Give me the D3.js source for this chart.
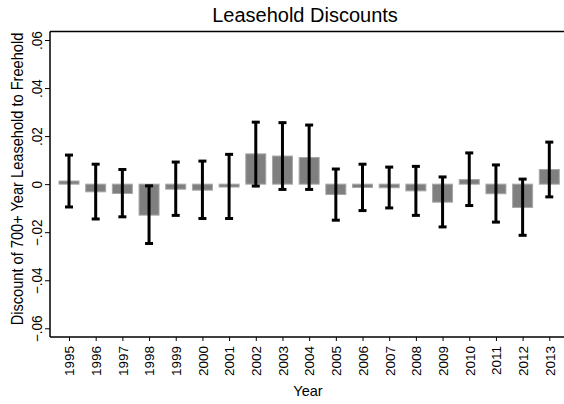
<!DOCTYPE html>
<html lang="en">
<head>
<meta charset="UTF-8">
<title>Leasehold Discounts</title>
<script src="https://d3js.org/d3.v7.min.js"></script>
<style>
  body { margin: 0; background: #fff; }
  svg { display: block; font-family: "Liberation Sans", Arial, Helvetica, sans-serif; }
  .bar { fill: #7f7f7f; stroke: #a8a8a8; stroke-width: 1; }
  .err { stroke: #000; stroke-width: 3; }
  .axis path, .axis line { stroke: #000; }
  .axis text { fill: #000; }
</style>
</head>
<body>
<svg width="564" height="404"></svg>
<script>
// estimates
const years = ["1995","1996","1997","1998","1999","2000","2001","2002","2003","2004",
               "2005","2006","2007","2008","2009","2010","2011","2012","2013"];
const discount = [0.0013, -0.0032, -0.0039, -0.0129, -0.0021, -0.0025, -0.0012, 0.0126, 0.0117, 0.0111,
                  -0.0043, -0.0014, -0.0015, -0.0028, -0.0075, 0.0019, -0.0040, -0.0097, 0.0061];
const upper = [0.0121, 0.0083, 0.0061, -0.0007, 0.0092, 0.0096, 0.0124, 0.0258, 0.0256, 0.0246,
               0.0063, 0.0083, 0.0071, 0.0074, 0.0030, 0.0130, 0.0080, 0.0021, 0.0175];
const lower = [-0.0095, -0.0145, -0.0136, -0.0247, -0.0130, -0.0143, -0.0143, -0.0008, -0.0022, -0.0022,
               -0.0150, -0.0110, -0.0099, -0.0130, -0.0178, -0.0089, -0.0158, -0.0213, -0.0053];
const yTicks = [-0.06, -0.04, -0.02, 0, 0.02, 0.04, 0.06];

const plot = {left: 50, right: 564, top: 31.5, bottom: 337};

const svg = d3.select("svg");

const x = d3.scalePoint()
    .domain(years)
    .range([69, 549.3]);

const y = d3.scaleLinear()
    .domain([-0.06, 0.06])
    .range([328.3, 40]);

const fmt = d => d === 0 ? "0" : d3.format(".2f")(d).replace("0.", ".");

// frame: top line
svg.append("line")
    .attr("x1", plot.left).attr("x2", plot.right)
    .attr("y1", plot.top).attr("y2", plot.top)
    .attr("stroke", "#000").attr("stroke-width", 1.5);

// bars
svg.selectAll(".bar")
    .data(years)
    .enter().append("rect")
    .attr("class", "bar")
    .attr("x", d => x(d) - 10)
    .attr("width", 20)
    .attr("y", (d, i) => y(Math.max(0, discount[i])))
    .attr("height", (d, i) => Math.abs(y(discount[i]) - y(0)));

// error bars
const eb = svg.selectAll(".eb")
    .data(years)
    .enter().append("g")
    .attr("class", "eb");

eb.append("line")
    .attr("class", "err")
    .attr("x1", d => x(d)).attr("x2", d => x(d))
    .attr("y1", (d, i) => y(upper[i])).attr("y2", (d, i) => y(lower[i]));

eb.append("line")
    .attr("class", "err")
    .attr("x1", d => x(d) - 4).attr("x2", d => x(d) + 4)
    .attr("y1", (d, i) => y(upper[i])).attr("y2", (d, i) => y(upper[i]));

eb.append("line")
    .attr("class", "err")
    .attr("x1", d => x(d) - 4).attr("x2", d => x(d) + 4)
    .attr("y1", (d, i) => y(lower[i])).attr("y2", (d, i) => y(lower[i]));

// y axis
const yAxis = svg.append("g")
    .attr("class", "axis")
    .attr("transform", "translate(" + plot.left + ",0)")
    .call(d3.axisLeft(y).tickValues(yTicks).tickFormat(fmt).tickSize(5).tickSizeOuter(0));
yAxis.select(".domain")
    .attr("d", "M0," + plot.top + "V" + plot.bottom)
    .attr("stroke-width", 1.5);
yAxis.selectAll("text")
    .attr("x", null).attr("dy", null)
    .attr("transform", "translate(-8,0) rotate(-90) scale(1,1.08)")
    .style("text-anchor", "middle")
    .style("font-size", "13.5px");

// x axis
const xAxis = svg.append("g")
    .attr("class", "axis")
    .attr("transform", "translate(0," + plot.bottom + ")")
    .call(d3.axisBottom(x).tickSize(4).tickSizeOuter(0));
xAxis.select(".domain")
    .attr("d", "M" + plot.left + ",0H" + plot.right)
    .attr("stroke-width", 1.5);
xAxis.selectAll("text")
    .attr("y", null).attr("dy", null)
    .attr("transform", "translate(4.8,9) rotate(-90)")
    .style("text-anchor", "end")
    .style("font-size", "13.5px");

// titles
svg.append("text")
    .attr("x", 305).attr("y", 22)
    .attr("text-anchor", "middle")
    .style("font-size", "20px")
    .text("Leasehold Discounts");

svg.append("text")
    .attr("x", 308).attr("y", 396)
    .attr("text-anchor", "middle")
    .style("font-size", "14.5px")
    .text("Year");

svg.append("text")
    .attr("transform", "translate(23,179) rotate(-90) scale(1,1.12)")
    .attr("text-anchor", "middle")
    .style("font-size", "14.6px")
    .text("Discount of 700+ Year Leasehold to Freehold");
</script>
</body>
</html>
